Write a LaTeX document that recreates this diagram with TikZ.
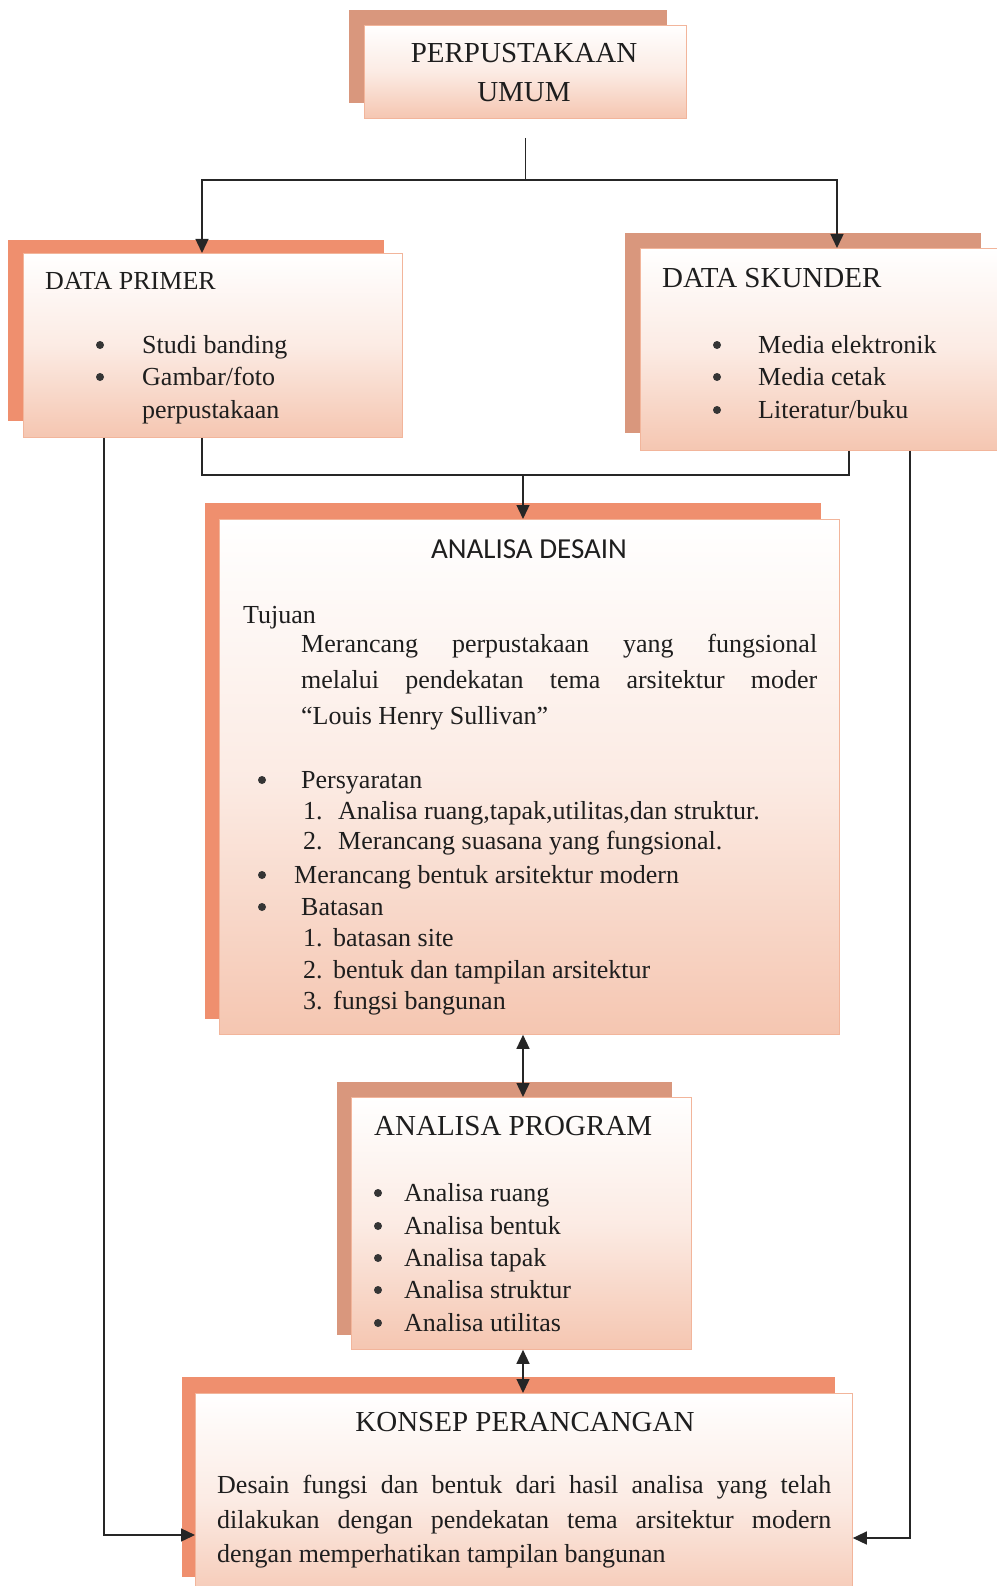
\documentclass[tikz,border=0pt]{standalone}
\usepackage{fontspec}
\setmainfont{Liberation Serif}
\newfontfamily\calib{Carlito}
\usetikzlibrary{arrows.meta,calc}

\definecolor{backA}{HTML}{D9977D}
\definecolor{backB}{HTML}{EF8F6E}
\definecolor{peach}{HTML}{F5C6B1}
\definecolor{rim}{HTML}{F2B59B}
\definecolor{ink}{HTML}{1E1E1E}
\definecolor{wire}{HTML}{262626}

\tikzset{
  panel/.style={draw=rim, line width=0.8pt, top color=white, bottom color=peach,
    middle color=peach!35, inner sep=0pt, anchor=north west},
  head/.style={font=\fontsize{29}{35}\selectfont, text=ink, inner sep=0pt},
  body/.style={font=\fontsize{26}{31}\selectfont, text=ink, inner sep=0pt, anchor=base west},
  % list bullet: a filled disc sitting at x-height middle above the given baseline
  dot/.style={circle, fill=ink!90, inner sep=0pt, minimum size=8pt, yshift=8pt},
  wireline/.style={draw=wire, line width=1.4pt},
  arr/.style={wireline, -{Triangle[length=14pt,width=13pt]}},
  dbl/.style={wireline, {Triangle[length=14pt,width=13pt]}-{Triangle[length=14pt,width=13pt]}},
}

\begin{document}
\begin{tikzpicture}[x=1pt,y=-1pt]
\useasboundingbox (0,0) rectangle (996,1586);

% ---- panels: a solid offset backing plus a shaded front card ----
\fill[backA] (349,10) rectangle (667,103);
\node[panel, minimum width=322pt, minimum height=93pt] (perp) at (364,25) {};

\fill[backB] (8,240) rectangle (384,421);
\node[panel, minimum width=379pt, minimum height=184pt] (primer) at (23,253) {};

\fill[backA] (625,233) rectangle (981,433);
\node[panel, minimum width=360pt, minimum height=202pt] (skunder) at (640,248) {};

\fill[backB] (205,503) rectangle (821,1019);
\node[panel, minimum width=620pt, minimum height=515pt] (desain) at (219,519) {};

\fill[backA] (337,1082) rectangle (672,1335);
\node[panel, minimum width=340pt, minimum height=252pt] (program) at (351,1097) {};

\fill[backB] (182,1377) rectangle (835,1577);
\node[panel, minimum width=657pt, minimum height=215pt] (konsep) at (195,1393) {};

% ---- routing guides ----
\coordinate (xL) at (202,0);
\coordinate (xR) at (837,0);
\coordinate (xM) at (849,0);
\coordinate (xLL) at (104,0);
\coordinate (xRR) at (910,0);
\coordinate (xC) at (523,0);
\coordinate (busA) at (0,180);
\coordinate (busB) at (0,475);
\coordinate (inL) at (0,1535);
\coordinate (inR) at (0,1538);

% ---- connectors ----
\draw[wireline] ($(perp.south)+(0,19)$) -- (perp.south |- busA);
\draw[arr] (perp.south |- busA) -| (primer.north -| xL);
\draw[arr] (perp.south |- busA) -| (skunder.north -| xR);
\draw[wireline] (primer.south -| xL) |- (xC |- busB);
\draw[wireline] (skunder.south -| xM) |- (xC |- busB);
\draw[arr] (xC |- busB) -- (desain.north -| xC);
\draw[arr] (primer.south -| xLL) |- (konsep.west |- inL);
\draw[arr] (skunder.south -| xRR) |- (konsep.east |- inR);
\draw[dbl] (desain.south -| xC) -- (program.north -| xC);
\draw[dbl] (program.south -| xC) -- (konsep.north -| xC);

% ---- PERPUSTAKAAN UMUM ----
\node[head, anchor=base] (perpA) at (524,63) {PERPUSTAKAAN};
\node[head, anchor=base] (perpB) at (524,102) {UMUM};

% ---- DATA PRIMER ----
\node[body] (priH) at (45,290) {DATA PRIMER};
\node[dot] (priD1) at (100,353) {};
\node[dot] (priD2) at (100,385) {};
\node[body] (pri1) at (142,353) {Studi banding};
\node[body] (pri2) at (142,385) {Gambar/foto};
\node[body] (pri3) at (142,418) {perpustakaan};

% ---- DATA SKUNDER ----
\node[head, anchor=base west] (skuH) at (662,288) {DATA SKUNDER};
\node[dot] (skuD1) at (717,353) {};
\node[dot] (skuD2) at (717,385) {};
\node[dot] (skuD3) at (717,418) {};
\node[body] (sku1) at (758,353) {Media elektronik};
\node[body] (sku2) at (758,385) {Media cetak};
\node[body] (sku3) at (758,418) {Literatur/buku};

% ---- ANALISA DESAIN ----
\node[head, anchor=base, font=\calib\fontsize{29}{35}\selectfont] (desH) at (529,558) {ANALISA DESAIN};
\node[body] (tuj) at (243,623) {Tujuan};
\node[body] (tujA) at (301,652) {\makebox[516pt][s]{Merancang perpustakaan yang fungsional}};
\node[body] (tujB) at (301,688) {\makebox[516pt][s]{melalui pendekatan tema arsitektur moder}};
\node[body] (tujC) at (301,724) {“Louis Henry Sullivan”};
\node[dot] (desD1) at (262,788) {};
\node[body] (syar) at (301,788) {Persyaratan};
\node[body] (syarN1) at (303,819) {1.};
\node[body] (syar1) at (338,819) {Analisa ruang,tapak,utilitas,dan struktur.};
\node[body] (syarN2) at (303,849) {2.};
\node[body] (syar2) at (338,849) {Merancang suasana yang fungsional.};
\node[dot] (desD2) at (262,883) {};
\node[body] (bentuk) at (294,883) {Merancang bentuk arsitektur modern};
\node[dot] (desD3) at (262,915) {};
\node[body] (batas) at (301,915) {Batasan};
\node[body] (batN1) at (303,946) {1.};
\node[body] (bat1) at (333,946) {batasan site};
\node[body] (batN2) at (303,978) {2.};
\node[body] (bat2) at (333,978) {bentuk dan tampilan arsitektur};
\node[body] (batN3) at (303,1009) {3.};
\node[body] (bat3) at (333,1009) {fungsi bangunan};

% ---- ANALISA PROGRAM ----
\node[head, anchor=base west] (proH) at (374,1135) {ANALISA PROGRAM};
\foreach \yy/\txt [count=\i] in {1201/Analisa ruang, 1234/Analisa bentuk, 1266/Analisa tapak,
    1298/Analisa struktur, 1331/Analisa utilitas}{
  \node[dot] (proD\i) at (378,\yy) {};
  \node[body] (pro\i) at (404,\yy) {\txt};
}

% ---- KONSEP PERANCANGAN ----
\node[head, anchor=base] (konH) at (525,1431) {KONSEP PERANCANGAN};
\node[body] (kon1) at (217,1493) {\makebox[614pt][s]{Desain fungsi dan bentuk dari hasil analisa yang telah}};
\node[body] (kon2) at (217,1528) {\makebox[614pt][s]{dilakukan dengan pendekatan tema arsitektur modern}};
\node[body] (kon3) at (217,1562) {dengan memperhatikan tampilan bangunan};
\end{tikzpicture}
\end{document}
